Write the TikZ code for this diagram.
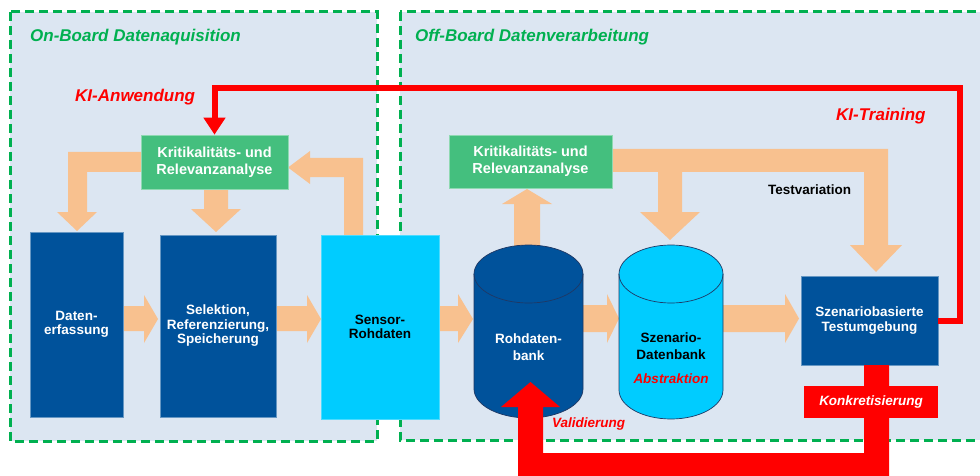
\documentclass[tikz,border=0pt]{standalone}
\usepackage{fontspec}
\setmainfont{Liberation Sans}
\usetikzlibrary{arrows.meta}
\definecolor{bgblue}{HTML}{DCE6F2}
\definecolor{dgreen}{HTML}{00B050}
\definecolor{navy}{HTML}{00529B}
\definecolor{cyanbox}{HTML}{00CCFF}
\definecolor{kgreen}{HTML}{44BF7E}
\definecolor{peach}{HTML}{F8C18F}
\definecolor{kred}{HTML}{FF0000}
\definecolor{cylline}{HTML}{1F3864}
\begin{document}
\begin{tikzpicture}[x=1pt,y=-1pt,
  region/.style={draw=dgreen, line width=3pt, dash pattern=on 9pt off 5pt, fill=bgblue},
  title/.style={text=dgreen, font=\fontsize{17}{20}\selectfont\bfseries\itshape, anchor=west, inner sep=0},
  redlabel/.style={text=kred, font=\fontsize{17}{20}\selectfont\bfseries\itshape, inner sep=0, anchor=west},
  smallred/.style={text=kred, font=\fontsize{13.5}{15}\selectfont\bfseries\itshape, inner sep=0},
  navybox/.style={fill=navy, draw=navy!60!white, line width=0.6pt, text=white, inner sep=0, align=center, font=\fontsize{13.5}{14.5}\selectfont\bfseries},
  cyanrect/.style={fill=cyanbox, draw=cyanbox!70!white, line width=0.6pt, text=black, inner sep=0, align=center, font=\fontsize{13.5}{14.5}\selectfont\bfseries},
  greenbox/.style={fill=kgreen, draw=kgreen!60!white, line width=0.6pt, text=white, inner sep=0, align=center, font=\fontsize{14.5}{17}\selectfont\bfseries},
  fatarrow/.style={fill=peach},
  redfat/.style={fill=kred},
  cyltext/.style={inner sep=0, align=center, font=\fontsize{13.5}{17}\selectfont\bfseries},
  cylout/.style={draw=cylline, line width=0.7pt},
  redline/.style={draw=kred, line width=6pt, line join=miter}
]
\useasboundingbox (0,0) rectangle (980,476);
\clip (0,0) rectangle (980,476);
\fill[white] (0,0) rectangle (980,476);

% regions
\path[region] (10,12) rectangle (377,441);
\path[region] (400,12) rectangle (995,440);
\node[title] (t1) at (30,37) {On-Board Datenaquisition};
\node[title] (t2) at (415,37) {Off-Board Datenverarbeitung};

% fat orange arrows (left)
\fill[fatarrow] (123,306) -- (144,306) -- (144,295) -- (158,319) -- (144,343) -- (144,331) -- (123,331) -- cycle;
\fill[fatarrow] (276,306) -- (307,306) -- (307,295) -- (321,319) -- (307,343) -- (307,331) -- (276,331) -- cycle;
\fill[fatarrow] (439,306) -- (458,306) -- (458,294) -- (473,319) -- (458,343) -- (458,331) -- (439,331) -- cycle;
\fill[fatarrow] (141,152) -- (68,152) -- (68,212) -- (57,212) -- (77,231) -- (97,212) -- (87,212) -- (87,172) -- (141,172) -- cycle;
\fill[fatarrow] (204,189) -- (204,209) -- (191,209) -- (216,232) -- (241,209) -- (228,209) -- (228,189) -- cycle;
\fill[fatarrow] (344,236) -- (344,177) -- (310,177) -- (310,184) -- (288,167.5) -- (310,151) -- (310,158) -- (363,158) -- (363,236) -- cycle;
% fat orange arrows (right)
\fill[fatarrow] (583,305) -- (607,305) -- (607,294) -- (619,318.5) -- (607,343) -- (607,332) -- (583,332) -- cycle;
\fill[fatarrow] (723,305) -- (785,305) -- (785,294) -- (799,318.5) -- (785,343) -- (785,332) -- (723,332) -- cycle;
\fill[fatarrow] (514,250) -- (514,204) -- (502,204) -- (527,189) -- (552,204) -- (540,204) -- (540,250) -- cycle;
\fill[fatarrow] (612,149) -- (888,149) -- (888,245) -- (902,245) -- (876,272) -- (850,245) -- (864,245) -- (864,172)
  -- (682,172) -- (682,212) -- (700,212) -- (670,240) -- (640,212) -- (658,212) -- (658,172) -- (612,172) -- cycle;

% left boxes
\node[greenbox, minimum width=147, minimum height=54] (kl1) at (214.5,162) {Kritikalitäts- und\\Relevanzanalyse};
\node[navybox, minimum width=93, minimum height=185] (daten) at (76.5,324.5) {Daten-\\erfassung};
\node[navybox, minimum width=116, minimum height=182] (sel) at (218,326) {Selektion,\\Referenzierung,\\Speicherung};
\node[cyanrect, minimum width=118, minimum height=184] (sensor) at (380,327) {Sensor-\\Rohdaten};

% right boxes
\node[greenbox, minimum width=163, minimum height=53] (kl2) at (530.5,161.5) {Kritikalitäts- und\\Relevanzanalyse};
\node[navybox, minimum width=137, minimum height=89, font=\fontsize{13.5}{15}\selectfont\bfseries] (szb) at (869.5,320.5) {Szenariobasierte\\Testumgebung};

% cylinders
\fill[navy] (474,274) -- (474,389) arc[start angle=180,end angle=0,x radius=54.5,y radius=29] -- (583,274) arc[start angle=0,end angle=-180,x radius=54.5,y radius=29] -- cycle;
\draw[cylout] (474,274) -- (474,389) arc[start angle=180,end angle=0,x radius=54.5,y radius=29] -- (583,274) arc[start angle=0,end angle=-180,x radius=54.5,y radius=29] -- cycle;
\draw[cylout] (474,274) arc[start angle=180,end angle=0,x radius=54.5,y radius=29];
\node[inner sep=0, minimum width=109, minimum height=174] (rdb) at (528.5,331.5) {};
\node[cyltext, text=white] (rdbt) at (528.5,347) {Rohdaten-\\bank};

\fill[cyanbox] (619,274) -- (619,390) arc[start angle=180,end angle=0,x radius=52,y radius=29] -- (723,274) arc[start angle=0,end angle=-180,x radius=52,y radius=29] -- cycle;
\draw[cylout] (619,274) -- (619,390) arc[start angle=180,end angle=0,x radius=52,y radius=29] -- (723,274) arc[start angle=0,end angle=-180,x radius=52,y radius=29] -- cycle;
\draw[cylout] (619,274) arc[start angle=180,end angle=0,x radius=52,y radius=29];
\node[inner sep=0, minimum width=104, minimum height=174] (sdb) at (671,332) {};
\node[cyltext, text=black] (sdbt) at (671,346) {Szenario-\\Datenbank};
\node[smallred] (abs) at (671,379) {Abstraktion};

% red connectors
\draw[redline, -{Triangle[length=17pt,width=21pt]}] (szb.east) -| (960,88) -| (kl1.north);
\fill[redfat] (864,365) -- (889,365) -- (889,490) -- (518,490) -- (518,407) -- (501,407) -- (530.5,382)
  -- (560,407) -- (543,407) -- (543,453) -- (864,453) -- cycle;
\node[fill=kred, text=white, inner sep=0, minimum width=134, minimum height=32, font=\fontsize{13.5}{15}\selectfont\bfseries\itshape] (konk) at (871,402) {Konkretisierung};

% labels
\node[redlabel] (kia) at (75,97) {KI-Anwendung};
\node[redlabel] (kit) at (836,116) {KI-Training};
\node[inner sep=0, anchor=west, font=\fontsize{13.5}{15}\selectfont\bfseries] (tv) at (768,190) {Testvariation};
\node[smallred, anchor=west] (val) at (552,424) {Validierung};
\end{tikzpicture}
\end{document}
